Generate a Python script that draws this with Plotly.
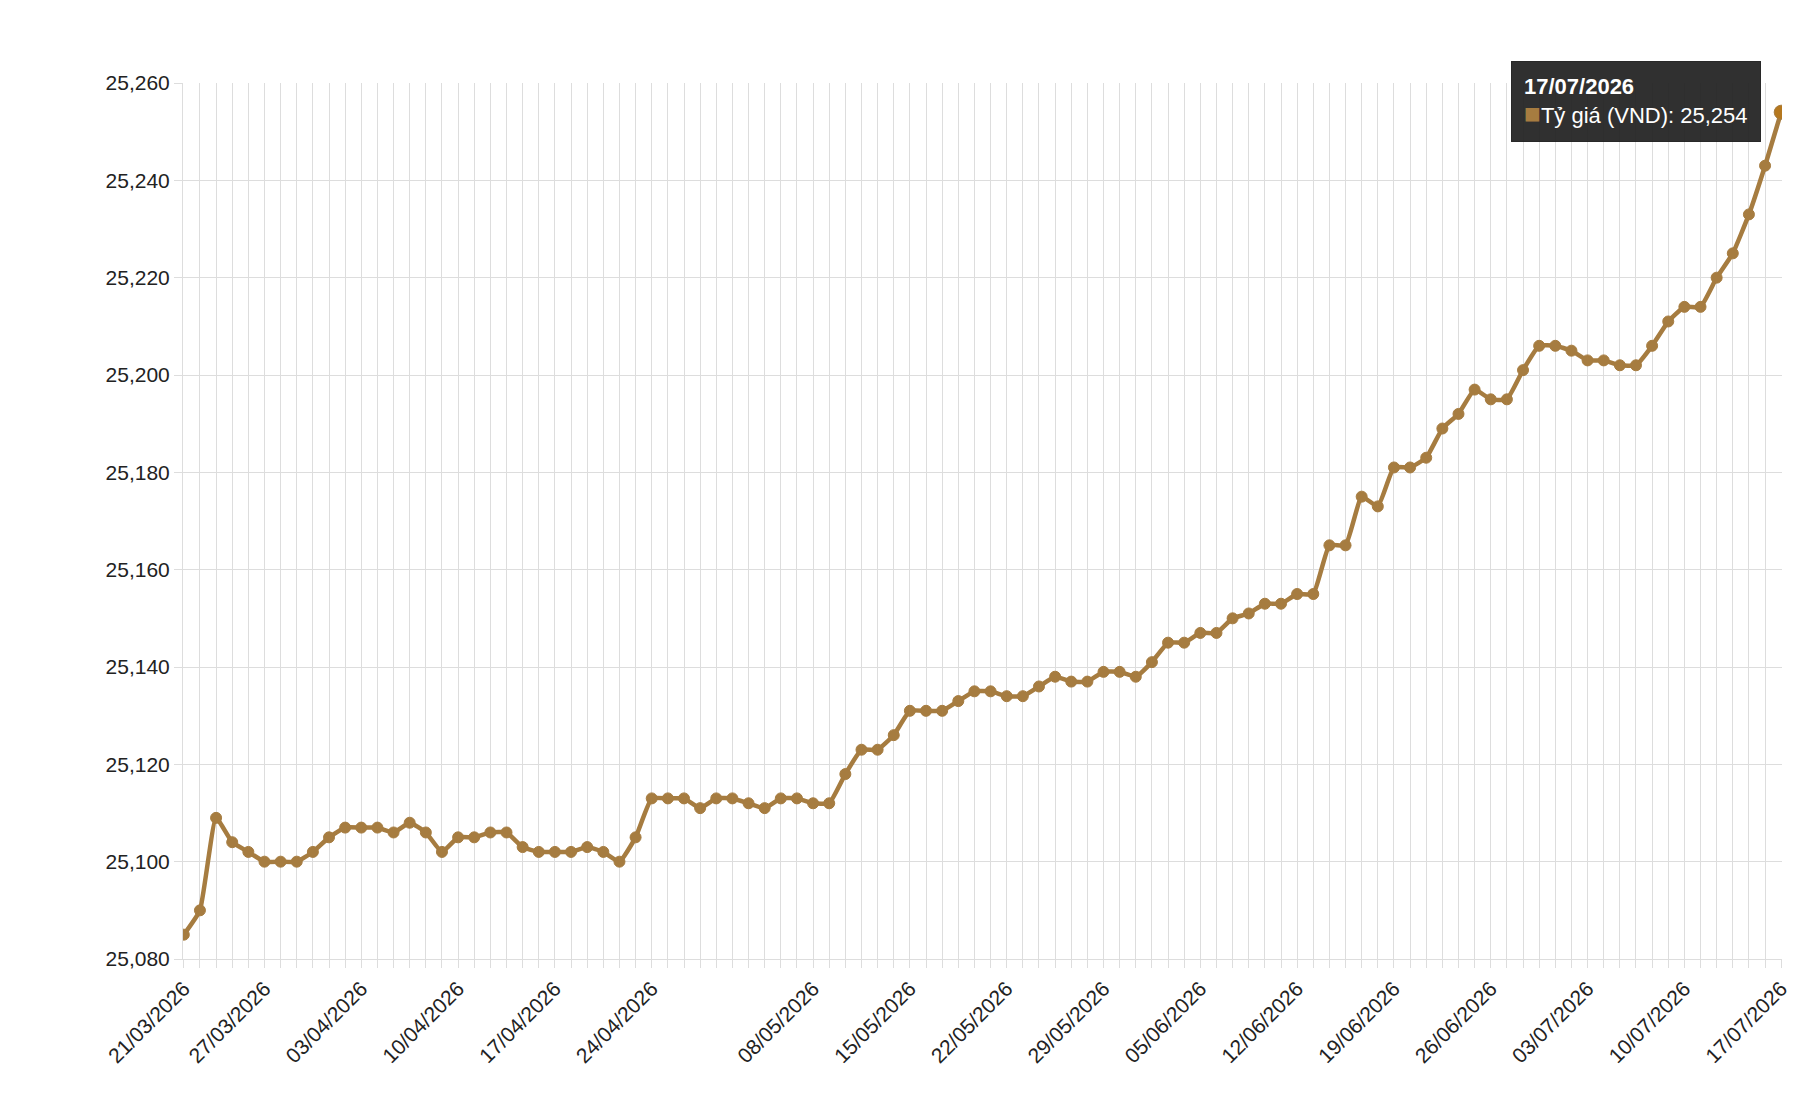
import datetime as dt
import plotly.graph_objects as go

start = dt.date(2026, 3, 21)
end = dt.date(2026, 7, 17)
holidays = {dt.date(2026, 4, 30), dt.date(2026, 5, 1)}
dates = []
d = start
while d <= end:
    if d.weekday() != 6 and d not in holidays:
        dates.append(d.strftime("%d/%m/%Y"))
    d += dt.timedelta(days=1)

values = [25085, 25090, 25109, 25104, 25102, 25100, 25100, 25100, 25102, 25105,
          25107, 25107, 25107, 25106, 25108, 25106, 25102, 25105, 25105, 25106,
          25106, 25103, 25102, 25102, 25102, 25103, 25102, 25100, 25105, 25113,
          25113, 25113, 25111, 25113, 25113, 25112, 25111, 25113, 25113, 25112,
          25112, 25118, 25123, 25123, 25126, 25131, 25131, 25131, 25133, 25135,
          25135, 25134, 25134, 25136, 25138, 25137, 25137, 25139, 25139, 25138,
          25141, 25145, 25145, 25147, 25147, 25150, 25151, 25153, 25153, 25155,
          25155, 25165, 25165, 25175, 25173, 25181, 25181, 25183, 25189, 25192,
          25197, 25195, 25195, 25201, 25206, 25206, 25205, 25203, 25203, 25202,
          25202, 25206, 25211, 25214, 25214, 25220, 25225, 25233, 25243, 25254]

label_dates = ["21/03/2026", "27/03/2026", "03/04/2026", "10/04/2026", "17/04/2026",
               "24/04/2026", "08/05/2026", "15/05/2026", "22/05/2026", "29/05/2026",
               "05/06/2026", "12/06/2026", "19/06/2026", "26/06/2026", "03/07/2026",
               "10/07/2026", "17/07/2026"]

color = "#A67C40"
ticktext = [x if x in label_dates else "" for x in dates]

sizes = [11] * len(values)
sizes[-1] = 14
mcolors = [color] * len(values)
mcolors[-1] = "#B5781F"

fig = go.Figure(go.Scatter(
    x=dates, y=values, mode="lines+markers",
    line=dict(color=color, width=4.5, shape="spline", smoothing=0.4),
    marker=dict(size=sizes, color=mcolors, opacity=1),
    name="Tỷ giá (VND)"))

fig.update_layout(
    width=1820, height=1120,
    margin=dict(l=175, r=46, t=75, b=169),
    plot_bgcolor="white", paper_bgcolor="white",
    font=dict(family="Liberation Sans, Arial", size=21, color="#222"),
    showlegend=False,
    xaxis=dict(type="category", tickmode="array", tickvals=dates, ticktext=ticktext,
               tickangle=-45, showgrid=True, gridcolor="#DDDDDD", gridwidth=1,
               ticks="outside", ticklen=8, tickcolor="#DDDDDD",
               showline=True, linecolor="#DDDDDD", range=[-0.05, len(dates) - 0.95]),
    yaxis=dict(range=[25080, 25260], dtick=20, tickformat=",", showgrid=True,
               gridcolor="#DDDDDD", ticks="outside", ticklen=8, tickcolor="#DDDDDD",
               showline=True, linecolor="#DDDDDD", zeroline=False),
    annotations=[dict(
        xref="paper", yref="paper", x=0.987, y=1.025, xanchor="right", yanchor="top",
        showarrow=False, align="left", bgcolor="rgba(30,30,30,0.92)",
        borderpad=12, bordercolor="rgba(30,30,30,0.92)",
        font=dict(color="white", size=22, family="Liberation Sans, Arial"),
        text=f"<b>{dates[-1]}</b><br><span style='color:{color};font-size:28px'>■</span>Tỷ giá (VND): {values[-1]:,}")],
)

fig.write_html("out.html")
